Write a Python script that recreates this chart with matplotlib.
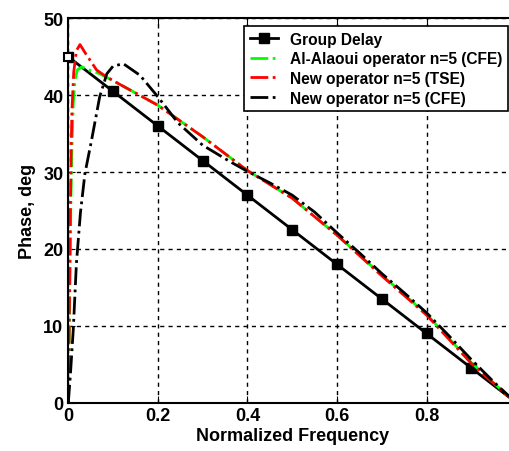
import numpy as np
import matplotlib
matplotlib.use('Agg')
import matplotlib.pyplot as plt

plt.rcParams['font.family'] = ['Liberation Sans', 'DejaVu Sans']
plt.rcParams['font.weight'] = 'bold'

# Group delay (straight line with square markers)
gd_x = [0, 0.1, 0.2, 0.3, 0.4, 0.5, 0.6, 0.7, 0.8, 0.9, 1.0]
gd_y = [45, 40.5, 36, 31.5, 27, 22.5, 18, 13.5, 9, 4.5, 0]

# Al-Alaoui operator n=5 (CFE)
al_x = [0, 0.002, 0.004, 0.006, 0.008, 0.011, 0.015, 0.02, 0.03, 0.05, 0.07, 0.1,
        0.2, 0.3, 0.4, 0.5, 0.6, 0.7, 0.8, 0.9, 0.985]
al_y = [0, 8, 18, 27, 33, 39, 42, 43.3, 43.7, 43.2, 42.8, 41.9,
        38.7, 34.6, 30.2, 26.6, 21.8, 16.6, 11.5, 5.2, 0.7]

# New operator n=5 (TSE)
tse_x = [0, 0.002, 0.004, 0.006, 0.008, 0.012, 0.018, 0.026, 0.04, 0.063, 0.08, 0.1,
         0.2, 0.3, 0.4, 0.5, 0.6, 0.7, 0.8, 0.9, 0.985]
tse_y = [0, 10, 22, 32, 38, 43, 45.8, 46.6, 45.3, 43.3, 42.6, 41.9,
         38.7, 34.6, 30.2, 26.6, 21.8, 16.5, 11.4, 5.1, 0.7]

# New operator n=5 (CFE)
cfe_x = [0, 0.005, 0.011, 0.018, 0.027, 0.037, 0.052, 0.07, 0.086, 0.1, 0.123, 0.16,
         0.2, 0.245, 0.3, 0.36, 0.4, 0.45, 0.5, 0.55, 0.6, 0.65, 0.7, 0.75, 0.8,
         0.85, 0.9, 0.95, 0.985]
cfe_y = [0, 4, 9.5, 18.1, 24.7, 29.8, 34.2, 39.8, 42.8, 43.8, 44.1, 42.6,
         39.8, 36.4, 33.5, 31.4, 30.1, 28.6, 27.0, 24.8, 22.1, 19.5, 16.8, 14.3, 11.7,
         8.7, 5.6, 2.7, 0.8]

x_ticks = [0, 0.2, 0.4, 0.6, 0.8, 1.0]
x_ticklabels = ['0', '0.2', '0.4', '0.6', '0.8', '']   # "1" falls outside the cropped picture
y_ticks = [0, 10, 20, 30, 40, 50]

fig = plt.figure(figsize=(5.1, 4.52), dpi=100)
ax = fig.add_axes([0.134, 0.107, 0.878, 0.850])

ax.plot(gd_x, gd_y, color='black', lw=2, marker='s', markersize=7,
        label='Group Delay')
ax.plot(gd_x[:1], gd_y[:1], ls='none', marker='s', markersize=6, clip_on=False,
        markerfacecolor='white', markeredgecolor='black', mew=1.5, zorder=5)
ax.plot(al_x, al_y, color='#00ff00', lw=2, ls='-.', label='Al-Alaoui operator n=5 (CFE)')
ax.plot(tse_x, tse_y, color='red', lw=2, ls='-.', label='New operator n=5 (TSE)')
ax.plot(cfe_x, cfe_y, color='black', lw=2, ls='-.', label='New operator n=5 (CFE)')

ax.set_xlim(0, 1)
ax.set_ylim(0, 50)
ax.set_xticks(x_ticks)
ax.set_xticklabels(x_ticklabels)
ax.set_yticks(y_ticks)
ax.grid(True, color='black', ls=(0, (3, 3)), lw=1)
ax.tick_params(direction='in', top=True, right=True, length=5, labelsize=13)
for s in ax.spines.values():
    s.set_linewidth(1.5)

ax.set_xlabel('Normalized Frequency', fontsize=13, fontweight='bold', labelpad=2)
ax.set_ylabel('Phase, deg', fontsize=13, fontweight='bold', labelpad=5)

leg = ax.legend(loc='upper right', bbox_to_anchor=(0.996, 0.94),
                bbox_transform=fig.transFigure, borderaxespad=0, fontsize=11.2,
                frameon=True, fancybox=False, handlelength=1.8, borderpad=0.35,
                labelspacing=0.3, edgecolor='black')
leg.get_frame().set_linewidth(1.2)
leg.get_frame().set_alpha(1)

plt.savefig('out.png', dpi=100)
